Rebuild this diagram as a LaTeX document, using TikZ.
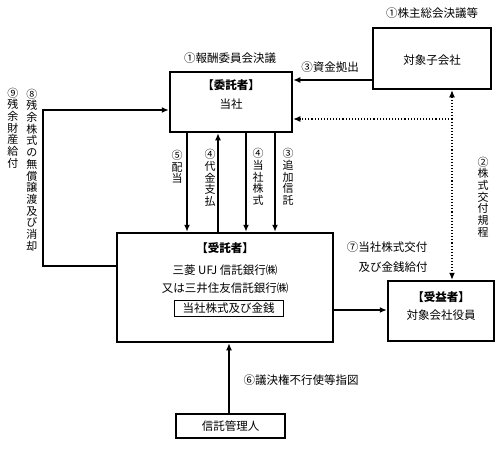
\documentclass[tikz,border=0pt]{standalone}
\usepackage{fontspec}
\setmainfont{Noto Sans CJK JP}
\usetikzlibrary{arrows.meta}
\begin{document}
\begin{tikzpicture}[x=1pt,y=-1pt,
  txt/.style={font=\fontsize{11.5}{13}\selectfont, inner sep=0pt},
  vtxt/.style={font=\fontsize{11}{11.7}\selectfont, inner sep=0pt, align=center},
  bigbox/.style={draw, line width=2.5pt, inner sep=0pt},
  thinbox/.style={draw, line width=0.8pt, inner sep=0pt},
  midbox/.style={draw, line width=1.4pt, inner sep=0pt},
  arr/.style={line width=1.3pt, -{Latex[length=7pt,width=6pt]}},
  darr/.style={line width=1.1pt, dotted, {Latex[length=7pt,width=6pt]}-{Latex[length=7pt,width=6pt]}},
  dline/.style={line width=1.1pt, dotted, -{Latex[length=7pt,width=6pt]}}]
\useasboundingbox (0,0) rectangle (501,448);

% boxes
\node[bigbox, minimum width=122pt, minimum height=60pt] (itaku) at (231,102) {};
\node[bigbox, minimum width=118pt, minimum height=61pt] (ko) at (432,58.5) {};
\node[bigbox, minimum width=216pt, minimum height=109pt] (jutaku) at (225,287.5) {};
\node[thinbox, minimum width=109pt, minimum height=16pt] (zaisan) at (228.5,308) {};
\node[bigbox, minimum width=106pt, minimum height=60pt] (jueki) at (441,311) {};
\node[midbox, minimum width=109pt, minimum height=24pt] (kanri) at (230.5,426) {};

% box texts
\node[txt, font=\fontsize{11.5}{13}\selectfont\bfseries] (t1) at (231,85) {【委託者】};
\node[txt] (t2) at (231,104) {当社};
\node[txt] (t3) at (432,60) {対象子会社};
\node[txt, font=\fontsize{11.5}{13}\selectfont\bfseries] (t4) at (225,248) {【受託者】};
\node[txt] (t5) at (225,270) {三菱 UFJ 信託銀行㈱};
\node[txt] (t6) at (225,288) {又は三井住友信託銀行㈱};
\node[txt] (t7) at (228.5,308) {当社株式及び金銭};
\node[txt, font=\fontsize{11.5}{13}\selectfont\bfseries] (t8) at (441,297) {【受益者】};
\node[txt] (t9) at (441,315) {対象会社役員};
\node[txt] (t10) at (230.5,426) {信託管理人};

% labels
\node[txt] (l1) at (230,58) {①報酬委員会決議};
\node[txt] (l2) at (432,13) {①株主総会決議等};
\node[txt] (l3) at (330,67) {③資金拠出};
\node[txt] (l7a) at (387,247) {⑦当社株式交付};
\node[txt] (l7b) at (393,267) {及び金銭給付};
\node[txt] (l6) at (301,380) {⑥議決権不行使等指図};
\node[vtxt] (v5) at (177,167) {⑤\\配\\当};
\node[vtxt] (v4a) at (210,178) {④\\代\\金\\支\\払};
\node[vtxt] (v4b) at (258,177) {④\\当\\社\\株\\式};
\node[vtxt] (v3) at (288,177) {③\\追\\加\\信\\託};
\node[vtxt] (v2) at (483,197) {②\\株\\式\\交\\付\\規\\程};
\node[vtxt] (v8) at (32,170) {⑧\\残\\余\\株\\式\\の\\無\\償\\譲\\渡\\及\\び\\消\\却};
\node[vtxt] (v9) at (13,128) {⑨\\残\\余\\財\\産\\給\\付};

% connectors
\draw[arr] (ko.west |- 0,80) -- (itaku.east |- 0,80);
\draw[arr] (itaku.south -| 187,0) -- (jutaku.north -| 187,0);
\draw[arr] (jutaku.north -| 218,0) -- (itaku.south -| 218,0);
\draw[arr] (itaku.south -| 246,0) -- (jutaku.north -| 246,0);
\draw[arr] (itaku.south -| 275,0) -- (jutaku.north -| 275,0);
\draw[arr] (jutaku.east |- 0,310) -- (jueki.west |- 0,310);
\draw[arr] (kanri.north -| 229,0) -- (jutaku.south -| 229,0);
\coordinate (c1) at (43,266);
\coordinate (c2) at (43,110);
\draw[arr] (jutaku.west |- c1) -- (c1) -- (c2) -- (itaku.west |- c2);
\draw[darr] (ko.south -| 452,0) -- (jueki.north -| 452,0);
\coordinate (j) at (452,119);
\draw[dline] (j) -- (itaku.east |- j);
\end{tikzpicture}
\end{document}
